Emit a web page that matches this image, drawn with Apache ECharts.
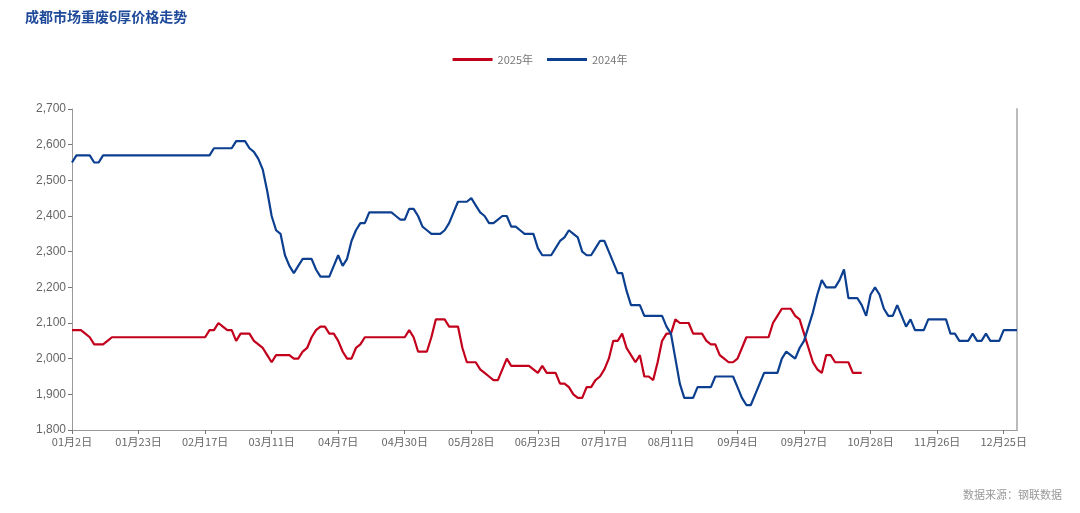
<!DOCTYPE html>
<html>
<head>
<meta charset="utf-8">
<script src="https://cdn.jsdelivr.net/npm/echarts@6/dist/echarts.min.js"></script>
<style>
html,body{margin:0;padding:0;background:#fff;}
#main{width:1080px;height:513px;}
</style>
</head>
<body>
<div id="main"></div>
<script>
var titleText = '成都市场重废6厚价格走势';
var sourceText = '数据来源：钢联数据';
var seriesNames = ['2025年', '2024年'];

var categories = [
'01月2日','01月3日','01月6日','01月7日','01月8日','01月9日','01月10日','01月13日','01月14日','01月15日','01月16日','01月17日','01月20日','01月21日','01月22日',
'01月23日','01月24日','01月26日','01月27日','02月5日','02月6日','02月7日','02月8日','02月10日','02月11日','02月12日','02月13日','02月14日','02月15日','02月16日',
'02月17日','02月18日','02月19日','02月20日','02月21日','02月24日','02月25日','02月26日','02月27日','02月28日','03月3日','03月4日','03月5日','03月6日','03月7日',
'03月11日','03月12日','03月13日','03月14日','03月17日','03月18日','03月19日','03月20日','03月21日','03月24日','03月25日','03月26日','03月27日','03月31日','04月3日',
'04月7日','04月8日','04月9日','04月10日','04月11日','04月14日','04月15日','04月16日','04月17日','04月18日','04月21日','04月22日','04月24日','04月25日','04月28日',
'04月30日','05月6日','05月7日','05月8日','05月9日','05月12日','05月13日','05月14日','05月15日','05月16日','05月19日','05月20日','05月21日','05月22日','05月26日',
'05月28日','05月29日','05月30日','06月3日','06月4日','06月5日','06月6日','06月9日','06月10日','06月11日','06月12日','06月13日','06月16日','06月18日','06月20日',
'06月23日','06月24日','06月25日','06月26日','06月27日','06月30日','07月1日','07月2日','07月3日','07月4日','07月7日','07月8日','07月10日','07月11日','07月14日',
'07月17日','07月18日','07月21日','07月22日','07月23日','07月24日','07月25日','07月28日','07月29日','07月30日','07月31日','08月1日','08月4日','08月6日','08月8日',
'08月11日','08月12日','08月13日','08月14日','08月15日','08月18日','08月19日','08月20日','08月21日','08月22日','08月25日','08月26日','08月27日','08月29日','09月1日',
'09月4日','09月5日','09月8日','09月9日','09月10日','09月11日','09月12日','09月15日','09月16日','09月17日','09月18日','09月19日','09月22日','09月24日','09月25日',
'09月27日','09月29日','09月30日','10月9日','10月10日','10月13日','10月14日','10月15日','10月16日','10月17日','10月20日','10月21日','10月22日','10月23日','10月24日',
'10月28日','10月29日','10月30日','10月31日','11月3日','11月5日','11月7日','11月10日','11月12日','11月13日','11月14日','11月17日','11月19日','11月21日','11月24日',
'11月26日','11月27日','11月28日','12月1日','12月2日','12月3日','12月5日','12月8日','12月10日','12月12日','12月15日','12月17日','12月19日','12月22日','12月23日',
'12月25日','12月26日','12月29日','12月31日'
];

var values2025 = [
2080,2080,2080,2070,2060,2040,2040,2040,2050,2060,
2060,2060,2060,2060,2060,2060,2060,2060,2060,2060,
2060,2060,2060,2060,2060,2060,2060,2060,2060,2060,
2060,2080,2080,2100,2090,2080,2080,2050,2070,2070,
2070,2050,2040,2030,2010,1990,2010,2010,2010,2010,
2000,2000,2020,2030,2060,2080,2090,2090,2070,2070,
2050,2020,2000,2000,2030,2040,2060,2060,2060,2060,
2060,2060,2060,2060,2060,2060,2080,2060,2020,2020,
2020,2060,2110,2110,2110,2090,2090,2090,2030,1990,
1990,1990,1970,1960,1950,1940,1940,1970,2000,1980,
1980,1980,1980,1980,1970,1960,1980,1960,1960,1960,
1930,1930,1920,1900,1890,1890,1920,1920,1940,1950,
1970,2000,2050,2050,2070,2030,2010,1990,2010,1950,
1950,1940,1990,2050,2070,2070,2110,2100,2100,2100,
2070,2070,2070,2050,2040,2040,2010,2000,1990,1990,
2000,2030,2060,2060,2060,2060,2060,2060,2100,2120,
2140,2140,2140,2120,2110,2070,2030,1990,1970,1960,
2010,2010,1990,1990,1990,1990,1960,1960,1960
];

var values2024 = [
2550,2570,2570,2570,2570,2550,2550,2570,2570,2570,
2570,2570,2570,2570,2570,2570,2570,2570,2570,2570,
2570,2570,2570,2570,2570,2570,2570,2570,2570,2570,
2570,2570,2590,2590,2590,2590,2590,2610,2610,2610,
2590,2580,2560,2530,2470,2400,2360,2350,2290,2260,
2240,2260,2280,2280,2280,2250,2230,2230,2230,2260,
2290,2260,2280,2330,2360,2380,2380,2410,2410,2410,
2410,2410,2410,2400,2390,2390,2420,2420,2400,2370,
2360,2350,2350,2350,2360,2380,2410,2440,2440,2440,
2450,2430,2410,2400,2380,2380,2390,2400,2400,2370,
2370,2360,2350,2350,2350,2310,2290,2290,2290,2310,
2330,2340,2360,2350,2340,2300,2290,2290,2310,2330,
2330,2300,2270,2240,2240,2190,2150,2150,2150,2120,
2120,2120,2120,2120,2090,2070,2000,1930,1890,1890,
1890,1920,1920,1920,1920,1950,1950,1950,1950,1950,
1920,1890,1870,1870,1900,1930,1960,1960,1960,1960,
2000,2020,2010,2000,2030,2050,2090,2130,2180,2220,
2200,2200,2200,2220,2250,2170,2170,2170,2150,2120,
2180,2200,2180,2140,2120,2120,2150,2120,2090,2110,
2080,2080,2080,2110,2110,2110,2110,2110,2070,2070,
2050,2050,2050,2070,2050,2050,2070,2050,2050,2050,
2080,2080,2080,2080
];

var yMin = 1800, yMax = 2700, yStep = 100;
var red = '#c3001c', blue = '#0c3f8f';

var chart = echarts.init(document.getElementById('main'));
chart.setOption({
  backgroundColor: '#ffffff',
  animation: false,
  title: {
    text: titleText, left: 20, top: 5,
    textStyle: {fontFamily: 'Noto Sans CJK SC', fontSize: 14, fontWeight: 'bold', color: '#1f4a9a'}
  },
  legend: {
    top: 49, left: 'center', itemWidth: 40, itemHeight: 3, itemGap: 14,
    icon: 'rect',
    textStyle: {color: '#777', fontSize: 11, fontFamily: 'Noto Sans CJK SC'},
    data: seriesNames
  },
  graphic: [{
    type: 'text', right: 18, bottom: 13,
    style: {text: sourceText, fill: '#999', fontSize: 11, fontFamily: 'Noto Sans CJK SC'}
  }],
  grid: {left: 72, right: 63, top: 109, bottom: 83, containLabel: false},
  xAxis: {
    type: 'category', data: categories, boundaryGap: false,
    axisLine: {lineStyle: {color: '#999', width: 1}},
    axisTick: {show: true, interval: 14, length: 4, lineStyle: {color: '#777'}},
    axisLabel: {interval: 14, color: '#666', fontSize: 11, margin: 6, fontFamily: 'Noto Sans CJK SC'},
    splitLine: {show: false}
  },
  yAxis: [{
    type: 'value', min: yMin, max: yMax, interval: yStep,
    axisLine: {show: true, lineStyle: {color: '#999'}},
    axisTick: {show: true, length: 4, lineStyle: {color: '#777'}},
    axisLabel: {color: '#666', fontSize: 12, margin: 6,
      formatter: function (v) { return v.toLocaleString('en-US'); }},
    splitLine: {show: false}
  }, {
    type: 'value', min: yMin, max: yMax, interval: yStep, position: 'right',
    axisLine: {show: true, lineStyle: {color: '#bbb', width: 2}},
    axisTick: {show: false}, axisLabel: {show: false}, splitLine: {show: false}
  }],
  series: [{
    name: seriesNames[0], type: 'line', data: values2025, showSymbol: false,
    lineStyle: {color: red, width: 2.2}, itemStyle: {color: red}
  }, {
    name: seriesNames[1], type: 'line', data: values2024, showSymbol: false,
    lineStyle: {color: blue, width: 2.2}, itemStyle: {color: blue}
  }]
});
</script>
</body>
</html>
